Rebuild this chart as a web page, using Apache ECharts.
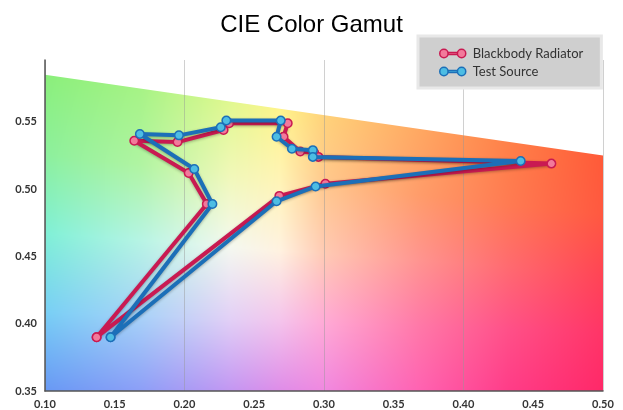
<!DOCTYPE html>
<html><head><meta charset="utf-8">
<script src="https://cdn.jsdelivr.net/npm/echarts@6/dist/echarts.min.js"></script>
<style>html,body{margin:0;padding:0;background:#fff}#c{width:623px;height:410px}</style>
</head><body><div id="c"></div>
<script>
// ---- data ----
const chartTitle = 'CIE Color Gamut';
const seriesNames = ['Blackbody Radiator', 'Test Source'];
const blackbodyX = [0.137, 0.216, 0.203, 0.164, 0.195, 0.228, 0.232, 0.274, 0.271, 0.283, 0.293, 0.296, 0.463, 0.301, 0.268];
const blackbodyY = [0.390, 0.489, 0.512, 0.536, 0.535, 0.544, 0.549, 0.549, 0.539, 0.528, 0.527, 0.524, 0.519, 0.504, 0.495];
const testX = [0.147, 0.220, 0.207, 0.168, 0.196, 0.226, 0.230, 0.269, 0.266, 0.277, 0.292, 0.292, 0.441, 0.294, 0.266];
const testY = [0.390, 0.489, 0.515, 0.541, 0.540, 0.546, 0.551, 0.551, 0.539, 0.530, 0.529, 0.524, 0.521, 0.502, 0.491];
const xTickValues = [0.10, 0.15, 0.20, 0.25, 0.30, 0.35, 0.40, 0.45, 0.50];
const yTickValues = [0.35, 0.40, 0.45, 0.50, 0.55];
const xRange = [0.10, 0.50];
const yRange = [0.35, 0.596];
// gamut background outline (data coordinates): bottom-left, top-left, top-right, bottom-right
const gamutX = [0.10, 0.10, 0.50, 0.50];
const gamutY = [0.35, 0.585, 0.525, 0.35];

function closedLoop(xs, ys) {
  const pts = xs.map((x, i) => [x, ys[i]]);
  pts.push([xs[0], ys[0]]);
  return pts;
}

// colour field for the background: columns (fraction of width), rows from bottom edge (0) to top edge (1)
const fieldU = [0, 0.17, 0.33, 0.42, 0.5, 0.67, 0.83, 1];
const fieldRows = [
  ['#6898f4', '#8c9ef7', '#c296f2', '#de8ce8', '#f088e0', '#ff62b2', '#ff3c88', '#ff2868'],
  ['#78cff5', '#a8d2f8', '#e2d0f6', '#f4c4ec', '#ffaad6', '#ff78a8', '#ff5088', '#ff3466'],
  ['#80f0d6', '#b6f4e4', '#f4f8f0', '#fff2e0', '#ffcab4', '#ff9490', '#ff6a70', '#ff4454'],
  ['#8cf09c', '#b0f4a2', '#f0f8b8', '#fff4b6', '#ffc88e', '#ff9c6a', '#ff7a52', '#ff5840'],
  ['#8aef7b', '#a6f386', '#e0f890', '#fff48c', '#ffd27a', '#ffa862', '#ff8048', '#ff5a38']
];
function hexRgb(h) { return [parseInt(h.substr(1,2),16), parseInt(h.substr(3,2),16), parseInt(h.substr(5,2),16)]; }
const fieldRgb = fieldRows.map(r => r.map(hexRgb));
function sampleField(u, v) {
  u = Math.min(1, Math.max(0, u)); v = Math.min(1, Math.max(0, v));
  let i = 0; while (i < fieldU.length - 2 && u > fieldU[i + 1]) i++;
  const tu = (u - fieldU[i]) / (fieldU[i + 1] - fieldU[i]);
  const nr = fieldRgb.length - 1;
  const fv = v * nr; let j = Math.min(nr - 1, Math.floor(fv)); const tv = fv - j;
  const c00 = fieldRgb[j][i], c10 = fieldRgb[j][i + 1], c01 = fieldRgb[j + 1][i], c11 = fieldRgb[j + 1][i + 1];
  const out = [0, 0, 0];
  for (let k = 0; k < 3; k++) {
    const a = c00[k] + (c10[k] - c00[k]) * tu;
    const b = c01[k] + (c11[k] - c01[k]) * tu;
    out[k] = a + (b - a) * tv;
  }
  return out;
}
let gradCache = null;
function gradientCanvas(W, H, pts) {
  const key = [W, H].concat(pts.flat()).map(Math.round).join(',');
  if (gradCache && gradCache.key === key) return gradCache.canvas;
  const cv = document.createElement('canvas');
  cv.width = W; cv.height = H;
  const ctx = cv.getContext('2d');
  const img = ctx.createImageData(W, H);
  const d = img.data;
  const x0 = pts[0][0], x1 = pts[3][0], yb = pts[0][1];
  const yt0 = pts[1][1], yt1 = pts[2][1];
  const ymin = Math.min(yt0, yt1);
  for (let py = Math.floor(ymin) - 1; py <= Math.ceil(yb) + 1; py++) {
    if (py < 0 || py >= H) continue;
    for (let px = Math.floor(x0) - 1; px <= Math.ceil(x1) + 1; px++) {
      if (px < 0 || px >= W) continue;
      const u = (px - x0) / (x1 - x0);
      const uc = Math.min(1, Math.max(0, u));
      const yt = yt0 + (yt1 - yt0) * uc;
      const v = (yb - py) / (yb - yt);
      const c = sampleField(u, v);
      const i = (py * W + px) * 4;
      d[i] = c[0]; d[i + 1] = c[1]; d[i + 2] = c[2]; d[i + 3] = 255;
    }
  }
  ctx.putImageData(img, 0, 0);
  gradCache = { key, canvas: cv };
  return cv;
}
function renderGamut(params, api) {
  const pts = gamutX.map((x, i) => api.coord([x, gamutY[i]]));
  const cv = gradientCanvas(api.getWidth(), api.getHeight(), pts);
  return { type: 'polygon', shape: { points: pts }, style: { fill: { image: cv, repeat: 'no-repeat' } }, silent: true };
}

const labelStyle = { color: '#333', fontFamily: 'Lato', fontWeight: 'bold', fontSize: 11 };
const legendIcon = 'path://M0.5,4.5A4,4 0 1,1 8.5,4.5A4,4 0 1,1 0.5,4.5Z M17.5,4.5A4,4 0 1,1 25.5,4.5A4,4 0 1,1 17.5,4.5Z M8.5,3.5L17.5,3.5L17.5,5.5L8.5,5.5Z';

const chart = echarts.init(document.getElementById('c'), null, { renderer: 'canvas' });
chart.setOption({
  animation: false,
  backgroundColor: '#ffffff',
  title: { text: chartTitle, left: 'center', top: 8, textStyle: { fontFamily: 'Liberation Sans', fontSize: 24, fontWeight: 'normal', color: '#000' } },
  legend: {
    orient: 'vertical', left: 418, top: 36,
    backgroundColor: '#cfcfcf', borderColor: '#e8e8e8', borderWidth: 3,
    padding: [11, 18, 10, 21], itemGap: 5, itemWidth: 26, itemHeight: 9,
    textStyle: { fontFamily: 'Lato', fontSize: 13, color: '#333', padding: [0, 0, 0, 2] },
    data: [
      { name: seriesNames[0], icon: legendIcon, itemStyle: { color: '#f27a9b', borderColor: '#c91a52', borderWidth: 1.5 } },
      { name: seriesNames[1], icon: legendIcon, itemStyle: { color: '#4dbde3', borderColor: '#1c6fb8', borderWidth: 1.5 } }
    ]
  },
  grid: { left: 45, right: 20, top: 60, bottom: 18, containLabel: false },
  xAxis: [
    { type: 'value', min: xRange[0], max: xRange[1], interval: 0.05, z: 1,
      axisLine: { show: true, onZero: false, lineStyle: { color: '#555', width: 1.5 } },
      axisTick: { show: false }, splitLine: { show: false },
      axisLabel: Object.assign({ margin: 8, formatter: v => xTickValues.some(t => Math.abs(t - v) < 1e-6) ? v.toFixed(2) : '' }, labelStyle) },
    { type: 'value', min: xRange[0], max: xRange[1], interval: 0.1, position: 'bottom', z: 1,
      axisLine: { show: false }, axisTick: { show: false }, axisLabel: { show: false },
      splitLine: { show: true, lineStyle: { color: 'rgba(150,150,150,0.45)', width: 1 } } }
  ],
  yAxis: {
    type: 'value', min: yRange[0], max: yRange[1], interval: 0.05, z: 1,
    axisLine: { show: true, onZero: false, lineStyle: { color: '#555', width: 1.5 } },
    axisTick: { show: false }, splitLine: { show: false },
    axisLabel: Object.assign({ margin: 8, showMaxLabel: false, formatter: v => yTickValues.some(t => Math.abs(t - v) < 1e-6) ? v.toFixed(2) : '' }, labelStyle)
  },
  series: [
    { type: 'custom', name: 'gamut', z: 0, renderItem: renderGamut, data: [0], silent: true, clip: false },
    { type: 'line', name: seriesNames[0], data: closedLoop(blackbodyX, blackbodyY), z: 3,
      symbol: 'circle', symbolSize: 8.5, showAllSymbol: true,
      lineStyle: { color: '#c91a52', width: 4, shadowColor: 'rgba(0,0,0,0.3)', shadowBlur: 3, shadowOffsetY: 1 },
      itemStyle: { color: '#f27a9b', borderColor: '#c91a52', borderWidth: 1.5 } },
    { type: 'line', name: seriesNames[1], data: closedLoop(testX, testY), z: 4,
      symbol: 'circle', symbolSize: 8.5, showAllSymbol: true,
      lineStyle: { color: '#1c6fb8', width: 4, shadowColor: 'rgba(0,0,0,0.3)', shadowBlur: 3, shadowOffsetY: 1 },
      itemStyle: { color: '#4dbde3', borderColor: '#1c6fb8', borderWidth: 1.5 } }
  ]
});
</script>
</body></html>
